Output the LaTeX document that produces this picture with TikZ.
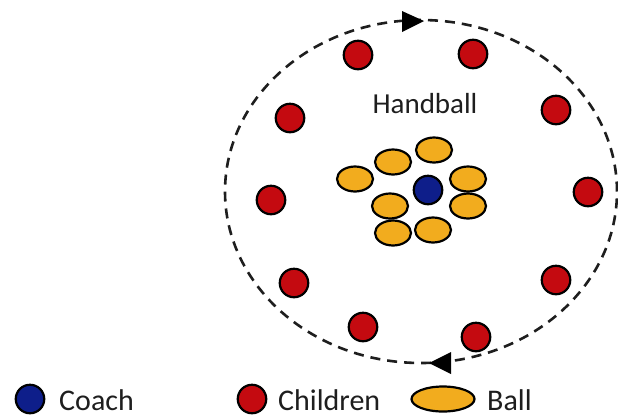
\documentclass[tikz,border=0pt]{standalone}
\usepackage{fontspec}
\setmainfont{Carlito}
\usetikzlibrary{shapes.geometric}
\definecolor{kidred}{RGB}{196,10,16}
\definecolor{coachblue}{RGB}{14,30,138}
\definecolor{ballorange}{RGB}{242,172,30}
\definecolor{ink}{RGB}{30,30,30}

\begin{document}
\begin{tikzpicture}[x=1pt,y=-1pt,
  kid/.style={circle,draw=black,fill=kidred,line width=2.2pt,minimum size=28.5pt,inner sep=0pt},
  coach/.style={circle,draw=black,fill=coachblue,line width=2.2pt,minimum size=28.5pt,inner sep=0pt},
  ball/.style={ellipse,draw=black,fill=ballorange,line width=2.2pt,minimum width=36pt,minimum height=25pt,inner sep=0pt},
  lbl/.style={text=ink,font=\fontsize{30}{30}\selectfont,inner sep=0pt,anchor=base west},
  route/.style={draw=ink,line width=2.6pt,dash pattern=on 10pt off 7pt},
  tip/.style={fill=black}]

\useasboundingbox[fill=white] (0,0) rectangle (618,416);

% running route around the field
\draw[route] (421,191.5) ellipse [x radius=196pt, y radius=171.5pt];
\fill[tip] (424,21) -- (402,11) -- (402,32) -- cycle;
\fill[tip] (429,363) -- (451,352) -- (451,374) -- cycle;

% title
\node[text=ink,font=\fontsize{29}{29}\selectfont,inner sep=0pt] (title) at (425,104) {Handball};

% children on the circle
\node[kid] (k1)  at (358,55)  {};
\node[kid] (k2)  at (473,54)  {};
\node[kid] (k3)  at (290,118) {};
\node[kid] (k4)  at (556,110) {};
\node[kid] (k5)  at (271,200) {};
\node[kid] (k6)  at (588,192) {};
\node[kid] (k7)  at (294,283) {};
\node[kid] (k8)  at (556,280) {};
\node[kid] (k9)  at (363,327) {};
\node[kid] (k10) at (476,337) {};

% balls around the coach
\node[ball] (b1) at (355,179) {};
\node[ball] (b2) at (393,162) {};
\node[ball] (b3) at (434,150) {};
\node[ball] (b4) at (468,179) {};
\node[ball] (b5) at (468,206) {};
\node[ball] (b6) at (390,206) {};
\node[ball] (b7) at (393,233) {};
\node[ball] (b8) at (433,230) {};

% coach in the middle
\node[coach] (c) at (428,190) {};

% legend
\node[coach] (lc) at (30,399) {};
\node[lbl] (lct) at (59,410) {Coach};
\node[kid] (lk) at (252,399) {};
\node[lbl] (lkt) at (278,410) {Children};
\node[ball,minimum width=63pt,minimum height=25pt] (lb) at (443,399) {};
\node[lbl] (lbt) at (487,410) {Ball};
\end{tikzpicture}
\end{document}
